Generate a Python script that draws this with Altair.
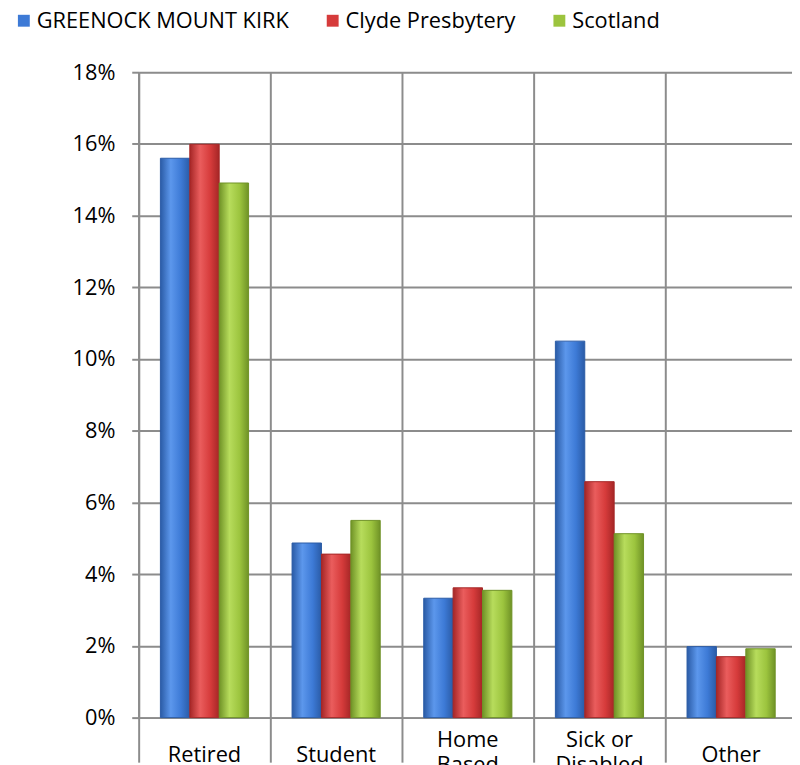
import altair as alt
import pandas as pd

# ---- data ----
categories = ["Retired", "Student", "Home Based", "Sick or Disabled", "Other"]
series = ["GREENOCK MOUNT KIRK", "Clyde Presbytery", "Scotland"]
greenock = [15.6, 4.87, 3.33, 10.5, 1.98]
clyde = [15.99, 4.56, 3.62, 6.58, 1.70]
scotland = [14.91, 5.50, 3.55, 5.13, 1.92]
y_ticks = [0, 2, 4, 6, 8, 10, 12, 14, 16, 18]

rows = []
for s, vals in zip(series, [greenock, clyde, scotland]):
    for c, v in zip(categories, vals):
        rows.append({"category": c, "series": s, "value": v})
df = pd.DataFrame(rows)

# ---- styles ----
FONT = "Open Sans"
FS = 22
GRID = "#8C8C8C"
main = ["#3D7AD6", "#D63B3B", "#9CC43E"]
edge = ["#2A5BA6", "#A52626", "#6F9226"]
light = ["#5C97EC", "#EA5D5D", "#B7DC5C"]

label_expr = ("datum.label == 'Home Based' ? ['Home', 'Based'] : "
              "datum.label == 'Sick or Disabled' ? ['Sick or', 'Disabled'] : datum.label")
two_line_test = "datum.value == 'Home Based' || datum.value == 'Sick or Disabled'"

x_enc = alt.X(
    "category:N", sort=categories, title=None,
    scale=alt.Scale(range=[0, 665], paddingInner=0, paddingOuter=0),
    axis=alt.Axis(
        bandPosition=0, grid=True, gridColor=GRID, gridWidth=2,
        ticks=True, tickSize=45, tickColor=GRID, tickWidth=2,
        domainColor=GRID, domainWidth=2,
        labelAngle=0, labelFont=FONT, labelFontSize=FS, labelColor="black",
        labelBaseline="middle", labelLineHeight=25,
        labelPadding={"condition": {"test": two_line_test, "value": -23}, "value": -8},
        labelExpr=label_expr,
    ),
)
xo_enc = alt.XOffset(
    "series:N", sort=series,
    scale=alt.Scale(domain=series, paddingInner=0, paddingOuter=0.74),
)
y_enc = alt.Y(
    "value:Q", title=None,
    scale=alt.Scale(domain=[0, 18], nice=False),
    axis=alt.Axis(
        values=y_ticks, labelExpr="datum.value + '%'",
        grid=True, gridColor=GRID, gridWidth=2,
        ticks=True, tickSize=7, tickColor=GRID, tickWidth=2,
        domainColor=GRID, domainWidth=2,
        labelFont=FONT, labelFontSize=FS, labelColor="black", labelPadding=17,
    ),
)

base = alt.Chart(df).encode(x=x_enc, xOffset=xo_enc, y=y_enc)

layers = []
for i, s in enumerate(series):
    grad = alt.LinearGradient(
        gradient="linear", x1=0, x2=1, y1=0, y2=0,
        stops=[
            alt.GradientStop(offset=0, color=edge[i]),
            alt.GradientStop(offset=0.35, color=light[i]),
            alt.GradientStop(offset=0.7, color=main[i]),
            alt.GradientStop(offset=1, color=edge[i]),
        ],
    )
    layers.append(
        base.mark_bar(color=grad, stroke=edge[i], strokeWidth=1)
        .transform_filter(alt.datum.series == s)
    )

legend_layer = base.mark_bar(opacity=0).encode(
    color=alt.Color(
        "series:N", sort=series,
        scale=alt.Scale(domain=series, range=main),
        legend=alt.Legend(
            title=None, orient="none", direction="horizontal",
            legendX=-127, legendY=-63,
            symbolType="square", symbolSize=144, symbolOpacity=1,
            symbolStrokeWidth=0,
            labelFont=FONT, labelFontSize=FS, labelColor="black",
            labelLimit=500, labelOffset=2, columnPadding=33, padding=0,
        ),
    )
)

chart = alt.layer(*layers, legend_layer).properties(
    width=660, height=652,
    padding={"left": 132, "top": 61, "right": 0, "bottom": 44},
    autosize="none",
).configure_view(stroke=None).configure(background="white")

chart.save("out.html", embed_options={"renderer": "svg", "actions": False})
